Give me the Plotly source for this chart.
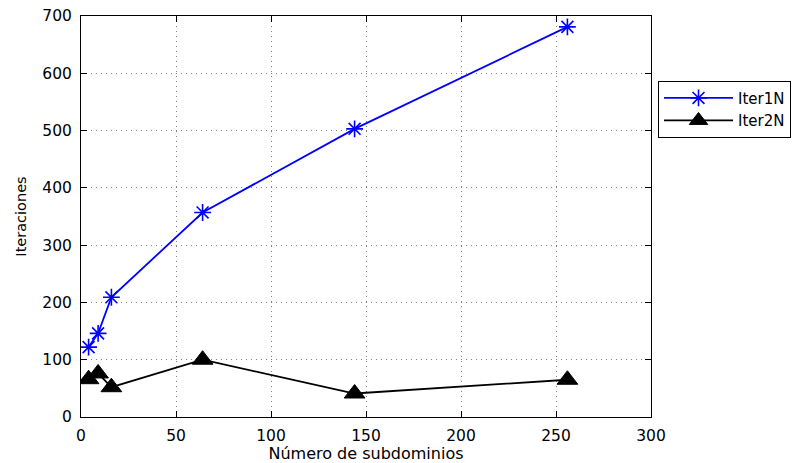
import plotly.graph_objects as go

# Data
subdominios = [4, 9, 16, 64, 144, 256]
iter1n = [122, 146, 209, 357, 503, 681]
iter2n = [66, 76, 52, 100, 41, 65]

x_ticks = [0, 50, 100, 150, 200, 250, 300]
y_ticks = [0, 100, 200, 300, 400, 500, 600, 700]

FONT = "DejaVu Sans"

fig = go.Figure()
fig.add_trace(go.Scatter(
    x=subdominios, y=iter1n, name="Iter1N", mode="lines+markers",
    line=dict(color="#0000ff", width=1.8),
    marker=dict(symbol="asterisk-open", size=14, color="#0000ff",
                line=dict(color="#0000ff", width=1.6)),
))
fig.add_trace(go.Scatter(
    x=subdominios, y=iter2n, name="Iter2N", mode="lines+markers",
    line=dict(color="#000000", width=1.8),
    marker=dict(symbol="triangle-up", size=18, color="#000000",
                line=dict(color="#000000", width=1)),
))

axis_common = dict(
    showline=True, linecolor="black", linewidth=1, mirror="ticks",
    ticks="inside", ticklen=6, tickwidth=1, tickcolor="black",
    showgrid=True, gridcolor="#7f7f7f", gridwidth=1, griddash="1px,4px",
    zeroline=False,
    tickfont=dict(family=FONT, size=15.5, color="black"),
)

fig.update_xaxes(
    range=[0, 300], tickvals=x_ticks, ticktext=[str(v) for v in x_ticks],
    title=dict(text="Número de subdominios",
               font=dict(family=FONT, size=16, color="black"), standoff=4),
    ticklabelstandoff=4,
    **axis_common,
)
fig.update_yaxes(
    range=[0, 700], tickvals=y_ticks, ticktext=[str(v) for v in y_ticks],
    title=dict(text="Iteraciones",
               font=dict(family=FONT, size=14.5, color="black"), standoff=12),
    ticklabelstandoff=5,
    **axis_common,
)

fig.update_layout(
    width=794, height=463,
    margin=dict(l=81, r=143, t=16, b=46, autoexpand=False),
    paper_bgcolor="white", plot_bgcolor="white",
    font=dict(family=FONT, color="black"),
    legend=dict(
        x=1.0123, y=0.8387, xanchor="left", yanchor="top",
        bgcolor="white", bordercolor="black", borderwidth=1,
        font=dict(family=FONT, size=15, color="black"),
        itemwidth=69, tracegroupgap=0,
    ),
    showlegend=True,
)

fig.write_html("out.html")
